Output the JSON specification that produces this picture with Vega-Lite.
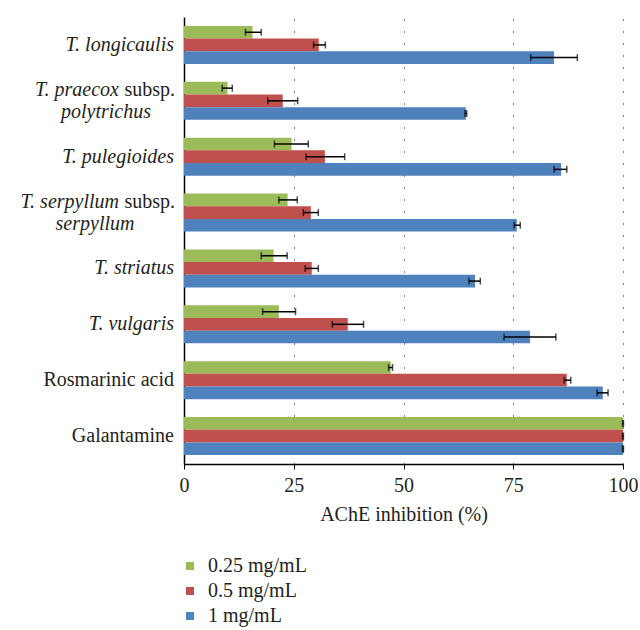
{
  "$schema": "https://vega.github.io/schema/vega-lite/v6.json",
  "width": 439,
  "height": 447,
  "autosize": {"type": "none"},
  "padding": {"left": 184, "top": 17, "right": 17, "bottom": 166},
  "background": "white",
  "config": {
    "view": {"stroke": null},
    "font": "Liberation Serif",
    "text": {"font": "Liberation Serif", "fontSize": 20, "color": "#231f20", "baseline": "middle"}
  },
  "datasets": {
    "bars": [
      {"sample": "T. longicaulis", "conc": "0.25 mg/mL", "mean": 15.6, "lo": 14.0, "hi": 17.6},
      {"sample": "T. longicaulis", "conc": "0.5 mg/mL", "mean": 30.7, "lo": 29.5, "hi": 32.2},
      {"sample": "T. longicaulis", "conc": "1 mg/mL", "mean": 84.3, "lo": 79.0, "hi": 89.6},
      {"sample": "T. praecox subsp. polytrichus", "conc": "0.25 mg/mL", "mean": 9.9, "lo": 8.7, "hi": 11.0},
      {"sample": "T. praecox subsp. polytrichus", "conc": "0.5 mg/mL", "mean": 22.5, "lo": 19.1, "hi": 25.9},
      {"sample": "T. praecox subsp. polytrichus", "conc": "1 mg/mL", "mean": 64.2, "lo": 64.0, "hi": 64.4},
      {"sample": "T. pulegioides", "conc": "0.25 mg/mL", "mean": 24.5, "lo": 20.6, "hi": 28.3},
      {"sample": "T. pulegioides", "conc": "0.5 mg/mL", "mean": 32.1, "lo": 27.8, "hi": 36.6},
      {"sample": "T. pulegioides", "conc": "1 mg/mL", "mean": 85.9, "lo": 84.3, "hi": 87.2},
      {"sample": "T. serpyllum subsp. serpyllum", "conc": "0.25 mg/mL", "mean": 23.6, "lo": 21.6, "hi": 25.8},
      {"sample": "T. serpyllum subsp. serpyllum", "conc": "0.5 mg/mL", "mean": 28.9, "lo": 27.2, "hi": 30.6},
      {"sample": "T. serpyllum subsp. serpyllum", "conc": "1 mg/mL", "mean": 75.8, "lo": 75.2, "hi": 76.6},
      {"sample": "T. striatus", "conc": "0.25 mg/mL", "mean": 20.4, "lo": 17.6, "hi": 23.5},
      {"sample": "T. striatus", "conc": "0.5 mg/mL", "mean": 29.1, "lo": 27.6, "hi": 30.6},
      {"sample": "T. striatus", "conc": "1 mg/mL", "mean": 66.3, "lo": 64.9, "hi": 67.5},
      {"sample": "T. vulgaris", "conc": "0.25 mg/mL", "mean": 21.6, "lo": 17.9, "hi": 25.4},
      {"sample": "T. vulgaris", "conc": "0.5 mg/mL", "mean": 37.3, "lo": 33.8, "hi": 40.9},
      {"sample": "T. vulgaris", "conc": "1 mg/mL", "mean": 78.8, "lo": 72.9, "hi": 84.7},
      {"sample": "Rosmarinic acid", "conc": "0.25 mg/mL", "mean": 47.1, "lo": 46.6, "hi": 47.5},
      {"sample": "Rosmarinic acid", "conc": "0.5 mg/mL", "mean": 87.2, "lo": 86.6, "hi": 88.1},
      {"sample": "Rosmarinic acid", "conc": "1 mg/mL", "mean": 95.4, "lo": 94.1, "hi": 96.6},
      {"sample": "Galantamine", "conc": "0.25 mg/mL", "mean": 100, "lo": 99.9, "hi": 100.1},
      {"sample": "Galantamine", "conc": "0.5 mg/mL", "mean": 100, "lo": 99.9, "hi": 100.1},
      {"sample": "Galantamine", "conc": "1 mg/mL", "mean": 100, "lo": 99.9, "hi": 100.1}
    ]
  },
  "encoding": {
    "y": {
      "field": "sample",
      "type": "nominal",
      "sort": ["T. longicaulis", "T. praecox subsp. polytrichus", "T. pulegioides", "T. serpyllum subsp. serpyllum", "T. striatus", "T. vulgaris", "Rosmarinic acid", "Galantamine"],
      "scale": {"paddingInner": 0.32, "paddingOuter": 0.16},
      "axis": {"labels": false, "ticks": false, "title": null, "domainColor": "#000", "domainWidth": 1.5, "grid": false}
    }
  },
  "layer": [
    {
      "data": {"name": "bars"},
      "mark": {"type": "bar"},
      "encoding": {
        "x": {
          "field": "mean",
          "type": "quantitative",
          "scale": {"domain": [0, 100], "nice": false, "zero": true},
          "axis": {
            "values": [0, 25, 50, 75, 100],
            "title": "AChE inhibition (%)",
            "titleFont": "Liberation Serif",
            "titleFontSize": 20,
            "titleFontWeight": "normal",
            "titleColor": "#231f20",
            "titlePadding": 9,
            "labelFont": "Liberation Serif",
            "labelFontSize": 20,
            "labelColor": "#231f20",
            "labelPadding": 6,
            "labelFlush": false,
            "tickSize": 5,
            "tickColor": "#000",
            "domainColor": "#000",
            "domainWidth": 1.5,
            "grid": true,
            "gridColor": "#000",
            "gridDash": [1, 11],
            "gridWidth": 1
          }
        },
        "yOffset": {
          "field": "conc",
          "type": "nominal",
          "sort": ["0.25 mg/mL", "0.5 mg/mL", "1 mg/mL"],
          "scale": {"paddingInner": 0, "paddingOuter": 0}
        },
        "color": {
          "field": "conc",
          "type": "nominal",
          "sort": ["0.25 mg/mL", "0.5 mg/mL", "1 mg/mL"],
          "scale": {"domain": ["0.25 mg/mL", "0.5 mg/mL", "1 mg/mL"], "range": ["#9BBB59", "#C0504D", "#4F81BD"]},
          "legend": {
            "orient": "none",
            "legendX": -4,
            "legendY": 539,
            "title": null,
            "symbolType": "square",
            "symbolSize": 64,
            "symbolStrokeWidth": 0,
            "labelFont": "Liberation Serif",
            "labelFontSize": 20,
            "labelColor": "#231f20",
            "labelOffset": 8,
            "rowPadding": 5
          }
        }
      }
    },
    {
      "data": {"name": "bars"},
      "mark": {"type": "rule", "color": "#000", "strokeWidth": 1.5},
      "encoding": {
        "x": {"field": "lo", "type": "quantitative"},
        "x2": {"field": "hi"},
        "yOffset": {"field": "conc", "type": "nominal", "sort": ["0.25 mg/mL", "0.5 mg/mL", "1 mg/mL"]}
      }
    },
    {
      "data": {"name": "bars"},
      "mark": {"type": "tick", "color": "#000", "orient": "vertical", "size": 7, "thickness": 1.5},
      "encoding": {
        "x": {"field": "lo", "type": "quantitative"},
        "yOffset": {"field": "conc", "type": "nominal", "sort": ["0.25 mg/mL", "0.5 mg/mL", "1 mg/mL"]}
      }
    },
    {
      "data": {"name": "bars"},
      "mark": {"type": "tick", "color": "#000", "orient": "vertical", "size": 7, "thickness": 1.5},
      "encoding": {
        "x": {"field": "hi", "type": "quantitative"},
        "yOffset": {"field": "conc", "type": "nominal", "sort": ["0.25 mg/mL", "0.5 mg/mL", "1 mg/mL"]}
      }
    },
    {
      "data": {"values": [
        {"sample": "T. longicaulis", "label": "T. longicaulis"},
        {"sample": "T. pulegioides", "label": "T. pulegioides"},
        {"sample": "T. striatus", "label": "T. striatus"},
        {"sample": "T. vulgaris", "label": "T. vulgaris"}
      ]},
      "mark": {"type": "text", "align": "right", "dx": -10, "fontStyle": "italic"},
      "encoding": {"x": {"datum": 0, "type": "quantitative"}, "text": {"field": "label"}}
    },
    {
      "data": {"values": [
        {"sample": "Rosmarinic acid", "label": "Rosmarinic acid"},
        {"sample": "Galantamine", "label": "Galantamine"}
      ]},
      "mark": {"type": "text", "align": "right", "dx": -10},
      "encoding": {"x": {"datum": 0, "type": "quantitative"}, "text": {"field": "label"}}
    },
    {
      "data": {"values": [
        {"sample": "T. praecox subsp. polytrichus", "label": "subsp."},
        {"sample": "T. serpyllum subsp. serpyllum", "label": "subsp."}
      ]},
      "mark": {"type": "text", "align": "right", "dx": -9, "dy": -11},
      "encoding": {"x": {"datum": 0, "type": "quantitative"}, "text": {"field": "label"}}
    },
    {
      "data": {"values": [
        {"sample": "T. praecox subsp. polytrichus", "label": "T. praecox"},
        {"sample": "T. serpyllum subsp. serpyllum", "label": "T. serpyllum"}
      ]},
      "mark": {"type": "text", "align": "right", "dx": -65, "dy": -11, "fontStyle": "italic"},
      "encoding": {"x": {"datum": 0, "type": "quantitative"}, "text": {"field": "label"}}
    },
    {
      "data": {"values": [
        {"sample": "T. praecox subsp. polytrichus", "label": "polytrichus"}
      ]},
      "mark": {"type": "text", "align": "center", "dx": -78, "dy": 11, "fontStyle": "italic"},
      "encoding": {"x": {"datum": 0, "type": "quantitative"}, "text": {"field": "label"}}
    },
    {
      "data": {"values": [
        {"sample": "T. serpyllum subsp. serpyllum", "label": "serpyllum"}
      ]},
      "mark": {"type": "text", "align": "center", "dx": -89, "dy": 11, "fontStyle": "italic"},
      "encoding": {"x": {"datum": 0, "type": "quantitative"}, "text": {"field": "label"}}
    }
  ]
}
